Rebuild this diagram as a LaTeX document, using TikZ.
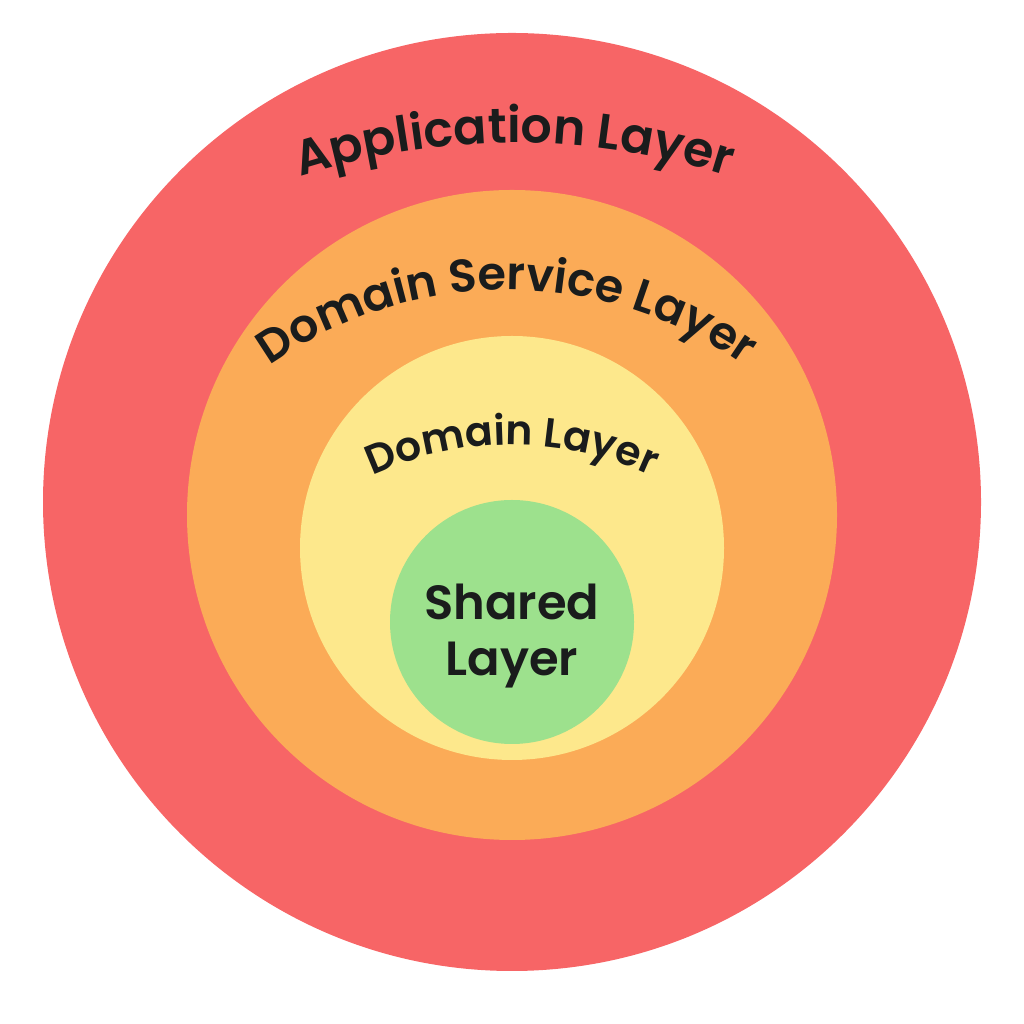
\documentclass[tikz,border=0pt]{standalone}
\usepackage{fontspec}
\setmainfont{Poppins}[BoldFont={Poppins SemiBold}]
\usetikzlibrary{decorations.text}
\definecolor{cred}{HTML}{F76566}
\definecolor{corange}{HTML}{FBAB57}
\definecolor{cyellow}{HTML}{FDE88C}
\definecolor{cgreen}{HTML}{9DE18D}
\definecolor{ctext}{HTML}{1A1C1C}
\newcommand{\fApp}{\fontsize{49}{58}\selectfont\bfseries}
\newcommand{\fDS}{\fontsize{46}{55}\selectfont\bfseries}
\newcommand{\fDL}{\fontsize{41}{48}\selectfont\bfseries}
\newcommand{\fSh}{\fontsize{48}{56}\selectfont\bfseries}
\begin{document}
\begin{tikzpicture}[x=1pt,y=1pt,
  ring/.style={circle, inner sep=0pt, outer sep=0pt},
  arctext/.style={decorate, decoration={text along path, text align=center, text color=ctext}}]
\useasboundingbox (0,0) rectangle (1024,1024);
\node[ring, fill=cred, minimum size=938pt] (app) at (512,522) {};
\node[ring, fill=corange, minimum size=650pt] (dsl) at (512,509) {};
\node[ring, fill=cyellow, minimum size=424pt] (dom) at (512,476) {};
\node[ring, fill=cgreen, minimum size=244pt] (shr) at (512,402) {};
% curved labels
\path[arctext, decoration={text={|\fApp|Application Layer}}]
  (514,181) ++(118:700) arc[start angle=118, end angle=62, radius=700];
\path[arctext, decoration={text={|\fDS|Domain Service Layer}}]
  (507,324) ++(140:410) arc[start angle=140, end angle=40, radius=410];
\path[arctext, decoration={text={|\fDL|Domain Layer}}]
  (512,247) ++(130:332) arc[start angle=130, end angle=50, radius=332];
\node[text=ctext, font=\fSh, align=center, inner sep=0pt] (shrlabel) at ([yshift=-14pt]shr.center) {Shared\\[0pt]Layer};
\end{tikzpicture}
\end{document}
